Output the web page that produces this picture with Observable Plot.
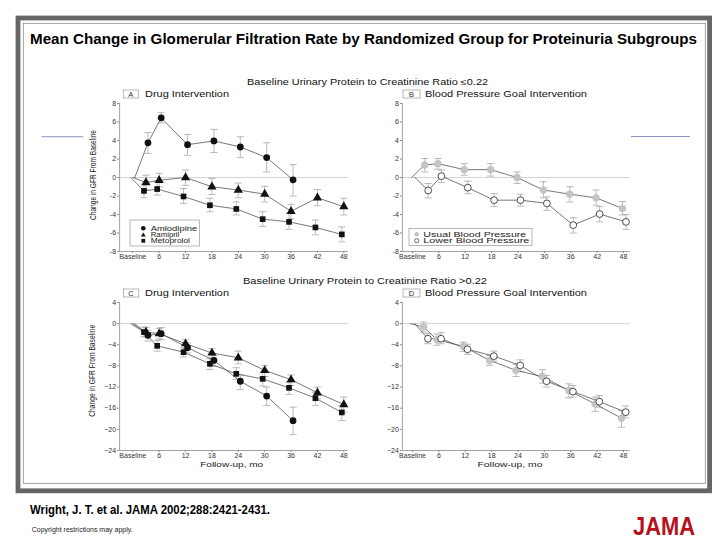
<!DOCTYPE html>
<html><head><meta charset="utf-8">
<script src="https://cdn.jsdelivr.net/npm/d3@7"></script>
<script src="https://cdn.jsdelivr.net/npm/@observablehq/plot@0.6"></script>
<style>
html,body{margin:0;padding:0;background:#fff;}
#root{position:relative;width:728px;height:546px;overflow:hidden;font-family:"Liberation Sans",Arial,sans-serif;}
#root svg.deco{position:absolute;left:0;top:0;}
.panel{position:absolute;}
</style></head><body><div id="root"></div>
<script>
// ---------- DATA ----------
const months = [0, 3, 6, 12, 18, 24, 30, 36, 42, 48];
const xTicks = [0, 6, 12, 18, 24, 30, 36, 42, 48];
const yTicksTop = [-8, -6, -4, -2, 0, 2, 4, 6, 8];
const yTicksBottom = [-24, -20, -16, -12, -8, -4, 0, 4];

// Panel A: ratio <= 0.22, drug intervention
const amlodipineA    = [0, 3.75, 6.45, 3.55, 3.95, 3.3, 2.15, -0.25];
const amlodipineA_lo = [null, 2.6, 5.9, 2.4, 2.7, 2.15, 0.6, -2.0];
const amlodipineA_hi = [null, 4.85, 7.0, 4.65, 5.2, 4.4, 3.75, 1.4];
const ramiprilA    = [0, -0.55, -0.3, 0.0, -1.0, -1.35, -1.8, -3.65, -2.2, -3.15];
const ramiprilA_lo = [null, -1.35, -1.0, -0.85, -1.85, -2.2, -2.65, -4.45, -3.05, -4.05];
const ramiprilA_hi = [null, 0.25, 0.45, 0.8, -0.1, -0.6, -0.95, -2.9, -1.3, -2.25];
const metoprololA    = [0, -1.45, -1.25, -2.05, -3.0, -3.4, -4.5, -4.8, -5.4, -6.15];
const metoprololA_lo = [null, -2.2, -1.9, -2.8, -3.7, -4.05, -5.3, -5.6, -6.2, -6.95];
const metoprololA_hi = [null, -0.7, -0.4, -1.2, -2.25, -2.65, -3.7, -3.9, -4.6, -5.35];

// Panel B: ratio <= 0.22, blood pressure goal
const usualB    = [0, 1.35, 1.5, 0.85, 0.85, 0.0, -1.35, -1.8, -2.2, -3.35];
const usualB_lo = [null, 0.6, 0.9, 0.25, 0.15, -0.65, -2.2, -2.65, -3.0, -4.05];
const usualB_hi = [null, 2.05, 2.05, 1.5, 1.5, 0.6, -0.45, -1.0, -1.35, -2.6];
const lowerB    = [0, -1.4, 0.15, -1.1, -2.45, -2.45, -2.8, -5.15, -3.95, -4.8];
const lowerB_lo = [null, -2.2, -0.55, -1.75, -3.15, -3.1, -3.55, -6.0, -4.8, -5.6];
const lowerB_hi = [null, -0.65, 0.8, -0.4, -1.75, -1.8, -2.1, -4.35, -3.15, -4.0];

// Panel C: ratio > 0.22, drug intervention
const amlodipineC    = [0, -2.2, -1.9, -4.55, -6.95, -10.9, -13.7, -18.35];
const amlodipineC_lo = [null, -3.3, -3.05, -5.55, -8.1, -12.5, -15.5, -21.0];
const amlodipineC_hi = [null, -1.25, -0.75, -3.65, -6.0, -9.7, -12.0, -15.8];
const ramiprilC    = [0, -1.6, -1.9, -3.8, -5.55, -6.45, -8.85, -10.6, -13.1, -15.3];
const ramiprilC_lo = [null, -2.5, -2.9, -4.75, -6.45, -7.6, -10.0, -11.7, -14.2, -16.8];
const ramiprilC_hi = [null, -0.7, -0.9, -3.05, -4.75, -5.2, -7.9, -9.7, -12.0, -13.9];
const metoprololC    = [0, -1.6, -4.2, -5.4, -7.6, -9.5, -10.45, -12.15, -14.1, -16.8];
const metoprololC_lo = [null, -2.5, -5.2, -6.3, -8.65, -10.6, -11.8, -13.4, -15.5, -18.35];
const metoprololC_hi = [null, -0.65, -3.2, -4.55, -6.65, -8.35, -9.2, -11.1, -13.0, -15.5];

// Panel D: ratio > 0.22, blood pressure goal
const usualD    = [0, -0.65, -3.05, -4.3, -6.95, -8.85, -10.0, -12.65, -15.2, -17.9];
const usualD_lo = [null, -1.6, -4.1, -5.25, -7.9, -10.0, -11.25, -14.05, -16.6, -19.6];
const usualD_hi = [null, 0.3, -2.0, -3.5, -6.0, -7.7, -8.7, -11.4, -13.9, -16.45];
const lowerD    = [0, -2.85, -2.85, -4.85, -6.15, -7.9, -10.9, -12.85, -14.75, -16.75];
const lowerD_lo = [null, -3.8, -3.8, -5.8, -7.1, -9.0, -12.0, -13.9, -15.8, -17.85];
const lowerD_hi = [null, -1.9, -1.7, -3.9, -5.2, -6.85, -9.8, -11.7, -13.6, -15.6];

const drugNames = ["Amlodipine", "Ramipril", "Metoprolol"];
const bpNames = ["Usual Blood Pressure", "Lower Blood Pressure"];
const titleText = "Mean Change in Glomerular Filtration Rate by Randomized Group for Proteinuria Subgroups";
const rowTitles = ["Baseline Urinary Protein to Creatinine Ratio \u22640.22", "Baseline Urinary Protein to Creatinine Ratio >0.22"];
const panelTitles = ["Drug Intervention", "Blood Pressure Goal Intervention", "Drug Intervention", "Blood Pressure Goal Intervention"];
const yLabel = "Change in GFR From Baseline";
const xLabel = "Follow-up, mo";

// ---------- DRAWING ----------
const root = document.getElementById("root");
const FONT = "Liberation Sans, Arial, sans-serif";

function t(x, y, s, size, opts = {}) {
  const len = opts.len ? ` textLength="${opts.len}" lengthAdjust="spacingAndGlyphs"` : "";
  const anchor = opts.anchor ? ` text-anchor="${opts.anchor}"` : "";
  const tr = opts.rotate ? ` transform="rotate(${opts.rotate} ${x} ${y})"` : "";
  return `<text x="${x}" y="${y}" font-size="${size}" font-weight="${opts.bold ? "bold" : "normal"}" fill="${opts.fill || "#222"}"${anchor}${len}${tr}>${s}</text>`;
}

const deco = [];
deco.push(`<rect x="18" y="18" width="691.6" height="472.8" fill="none" stroke="#666" stroke-width="4.8"/>`);
deco.push(`<rect x="23.3" y="23.3" width="682" height="460" fill="none" stroke="#8a8a8a" stroke-width="0.8"/>`);
deco.push(`<line x1="41.7" y1="136.7" x2="83.3" y2="136.7" stroke="#8a93bd" stroke-width="1"/>`);
deco.push(`<line x1="631" y1="136.5" x2="690" y2="136.5" stroke="#8a93bd" stroke-width="1"/>`);
deco.push(t(30, 44, titleText, 15, {bold: true, len: 667, fill: "#000"}));
deco.push(t(247, 84.5, rowTitles[0], 8.5, {len: 241, fill: "#111"}));
deco.push(t(243, 283.5, rowTitles[1], 8.5, {len: 244, fill: "#111"}));
// panel label boxes
const boxes = [
  {x: 123.3, y: 90, w: 15, h: 8, L: "A", tx: 145, len: 84},
  {x: 403, y: 90, w: 17, h: 8, L: "B", tx: 425, len: 162},
  {x: 123.3, y: 289, w: 15.5, h: 8, L: "C", tx: 145, len: 84},
  {x: 403, y: 289, w: 17, h: 8, L: "D", tx: 425, len: 162}
];
boxes.forEach((b, i) => {
  deco.push(`<rect x="${b.x}" y="${b.y}" width="${b.w}" height="${b.h}" fill="none" stroke="#999" stroke-width="0.7"/>`);
  deco.push(t(b.x + b.w / 2, b.y + 6.9, b.L, 7.5, {anchor: "middle", fill: "#333"}));
  deco.push(t(b.tx, b.y + 7, panelTitles[i], 8.5, {len: b.len, fill: "#111"}));
});
// legends
deco.push(`<rect x="130" y="220" width="69.3" height="26" fill="#fff" stroke="#999" stroke-width="0.7"/>`);
deco.push(`<circle cx="143.3" cy="228.3" r="2.3" fill="#111"/>`);
deco.push(`<path d="M143.3,232.4 L145.7,236.6 L140.9,236.6 Z" fill="#111"/>`);
deco.push(`<rect x="141.4" y="238.9" width="3.8" height="3.8" fill="#111"/>`);
deco.push(t(150.7, 230.6, drugNames[0], 6.4, {len: 46.5, fill: "#222"}));
deco.push(t(150.7, 237.1, drugNames[1], 6.4, {len: 28.6, fill: "#222"}));
deco.push(t(150.7, 243.1, drugNames[2], 6.4, {len: 39.3, fill: "#222"}));
deco.push(`<rect x="409" y="228.5" width="123" height="17" fill="#fff" stroke="#999" stroke-width="0.7"/>`);
deco.push(`<circle cx="416.7" cy="234.3" r="2.3" fill="#c4c4c4"/>`);
deco.push(`<circle cx="416.7" cy="240.7" r="2.1" fill="#fff" stroke="#333" stroke-width="0.7"/>`);
deco.push(t(423.3, 236.6, bpNames[0], 6.4, {len: 103, fill: "#222"}));
deco.push(t(423.3, 243.0, bpNames[1], 6.4, {len: 106, fill: "#222"}));
// axis labels
deco.push(t(95.5, 175, yLabel, 9, {anchor: "middle", rotate: -90, len: 90, fill: "#222"}));
deco.push(t(95.5, 370.8, yLabel, 9, {anchor: "middle", rotate: -90, len: 92, fill: "#222"}));
deco.push(t(231.7, 467, xLabel, 8, {anchor: "middle", len: 63, fill: "#222"}));
deco.push(t(510, 467, xLabel, 8, {anchor: "middle", len: 65, fill: "#222"}));
// footer
deco.push(t(30, 514, "Wright, J. T. et al. JAMA 2002;288:2421-2431.", 12.5, {bold: true, len: 240, fill: "#000"}));
deco.push(t(31.7, 532, "Copyright restrictions may apply.", 7, {len: 101, fill: "#222"}));
deco.push(t(633, 535, "JAMA", 25, {bold: true, len: 62, fill: "#b5121b"}));

root.insertAdjacentHTML("beforeend",
  `<svg class="deco" width="728" height="546" font-family="${FONT}">${deco.join("")}</svg>`);

const cap = {draw(ctx, size) { const r = Math.sqrt(size / Math.PI); ctx.moveTo(-r, 0); ctx.lineTo(r, 0); }};

function rows(vals, lo, hi) {
  return vals.map((v, i) => ({m: months[i], v, lo: lo[i], hi: hi[i]}));
}

function makePanel(cfg) {
  const axisColor = "#8a8a8a";
  const marks = [
    Plot.ruleY([0], {stroke: "#c8c8c8", strokeWidth: 0.8}),
    Plot.ruleX([cfg.xDomain[0]], {stroke: axisColor, strokeWidth: 0.8}),
    Plot.ruleY([cfg.yDomain[0]], {stroke: axisColor, strokeWidth: 0.8}),
    Plot.axisY({ticks: cfg.yTicks, tickSize: 2, tickPadding: 1.5, tickFormat: cfg.yFmt, stroke: axisColor, fill: "#333", label: null}),
    Plot.axisX({ticks: xTicks, tickSize: 2, tickPadding: 0.8, tickFormat: d => d === 0 ? "Baseline" : String(d), stroke: axisColor, fill: "#333", label: null})
  ];
  const all = cfg.series.map(s => ({s, d: rows(s.values, s.lo, s.hi)}));
  for (const {s, d} of all) {
    const e = d.filter(r => r.lo != null);
    marks.push(Plot.ruleX(e, {x: "m", y1: "lo", y2: "hi", stroke: "#a8a8a8", strokeWidth: 0.8, dx: s.dx}));
    marks.push(Plot.dot(e, {x: "m", y: "lo", symbol: cap, r: 3.6, stroke: "#a8a8a8", strokeWidth: 0.8, fill: "none", dx: s.dx}));
    marks.push(Plot.dot(e, {x: "m", y: "hi", symbol: cap, r: 3.6, stroke: "#a8a8a8", strokeWidth: 0.8, fill: "none", dx: s.dx}));
  }
  for (const {s, d} of all) {
    marks.push(Plot.line(d, {x: "m", y: "v", stroke: "#555", strokeWidth: 0.8, dx: s.dx}));
  }
  for (const {s, d} of all) {
    const e = d.filter(r => r.lo != null);
    marks.push(Plot.dot(e, {x: "m", y: "v", symbol: s.symbol, r: s.r, fill: s.fill, stroke: s.stroke, strokeWidth: s.sw || 0, dx: s.dx}));
  }
  const p = Plot.plot({
    width: cfg.width, height: cfg.height,
    marginLeft: cfg.ml, marginRight: cfg.mr, marginTop: cfg.mt, marginBottom: cfg.mb,
    x: {domain: cfg.xDomain},
    y: {domain: cfg.yDomain},
    style: {fontFamily: FONT, fontSize: "7px", color: "#333", background: "transparent", overflow: "visible"},
    marks
  });
  const div = document.createElement("div");
  div.className = "panel";
  div.style.left = cfg.left + "px";
  div.style.top = cfg.top + "px";
  div.appendChild(p);
  root.appendChild(div);
}

const hy = d => d < 0 ? "-" + Math.abs(d) : String(d);
const my = d => d < 0 ? "\u2212" + Math.abs(d) : String(d);

const drugSeries = (a, r, m) => [
  {values: a[0], lo: a[1], hi: a[2], symbol: "circle", r: 3.4, fill: "#111", dx: 2},
  {values: r[0], lo: r[1], hi: r[2], symbol: "triangle", r: 3.4, fill: "#111", dx: 0},
  {values: m[0], lo: m[1], hi: m[2], symbol: "square", r: 3.2, fill: "#111", dx: -2}
];
const bpSeries = (u, l, du, dl) => [
  {values: u[0], lo: u[1], hi: u[2], symbol: "circle", r: 3.4, fill: "#c4c4c4", stroke: "#bbb", sw: 0.5, dx: du},
  {values: l[0], lo: l[1], hi: l[2], symbol: "circle", r: 3.4, fill: "#fff", stroke: "#222", sw: 0.8, dx: dl}
];

// Panel A
makePanel({left: 60, top: 88, width: 300, height: 180, ml: 59.1, mr: 12.3, mt: 15, mb: 17,
  xDomain: [-3, 49], yDomain: [-8, 8], yTicks: yTicksTop, yFmt: hy,
  series: drugSeries([amlodipineA, amlodipineA_lo, amlodipineA_hi], [ramiprilA, ramiprilA_lo, ramiprilA_hi], [metoprololA, metoprololA_lo, metoprololA_hi])});
// Panel B
makePanel({left: 350, top: 88, width: 300, height: 180, ml: 51.9, mr: 20.4, mt: 15, mb: 17,
  xDomain: [-2.3, 49.5], yDomain: [-8, 8], yTicks: yTicksTop, yFmt: hy,
  series: bpSeries([usualB, usualB_lo, usualB_hi], [lowerB, lowerB_lo, lowerB_hi], -1, 2.5)});
// Panel C
makePanel({left: 60, top: 287, width: 300, height: 180, ml: 59.1, mr: 12.3, mt: 15, mb: 17,
  xDomain: [-3, 49], yDomain: [-24, 4], yTicks: yTicksBottom, yFmt: my,
  series: drugSeries([amlodipineC, amlodipineC_lo, amlodipineC_hi], [ramiprilC, ramiprilC_lo, ramiprilC_hi], [metoprololC, metoprololC_lo, metoprololC_hi])});
// Panel D
makePanel({left: 350, top: 287, width: 300, height: 180, ml: 51.9, mr: 20.4, mt: 15, mb: 17,
  xDomain: [-2.3, 49.5], yDomain: [-24, 4], yTicks: yTicksBottom, yFmt: my,
  series: bpSeries([usualD, usualD_lo, usualD_hi], [lowerD, lowerD_lo, lowerD_hi], -2, 2.2)});
</script></body></html>
